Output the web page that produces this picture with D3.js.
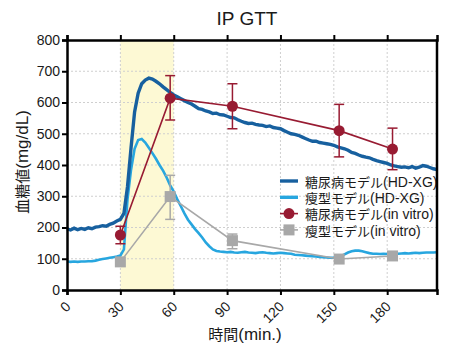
<!DOCTYPE html>
<html>
<head>
<meta charset="utf-8">
<script src="https://cdn.jsdelivr.net/npm/d3@7"></script>
<style>
	body { margin: 0; background: #fff; }
	text { font-family: "Liberation Sans", Arial, "Noto Sans CJK JP", sans-serif; fill: #1a1a1a; }
</style>
</head>
<body>
<svg id="chart" width="475" height="361"></svg>
<script>
// time axis for the continuous HD-XG traces (every 2 min)
var hdTime = d3.range(0, 210, 2);

// diabetic model, HD-XG sensor (mg/dL)
var diabeticHD = [
	196, 192, 198, 193, 197, 194, 199, 196, 201, 203,
	206, 204, 210, 214, 221, 226, 245, 330, 455, 570,
	630, 660, 672, 678, 675, 668, 660, 650, 641, 632,
	624, 618, 612, 606, 600, 595, 588, 580, 578, 573,
	570, 565, 566, 561, 560, 556, 552, 551, 545, 540,
	536, 533, 534, 530, 528, 527, 523, 525, 520, 518,
	516, 510, 505, 500, 498, 495, 490, 485, 480, 476,
	476, 472, 470, 468, 466, 463, 458, 455, 452, 447,
	440, 437, 432, 428, 425, 423, 418, 414, 411, 408,
	405, 400, 397, 395, 393, 394, 391, 395, 390, 393,
	398, 396, 392, 388, 385
];

// lean model, HD-XG sensor (mg/dL)
var leanHD = [
	91, 90, 91, 90, 91, 91, 92, 92, 94, 97,
	99, 101, 103, 105, 107, 110, 130, 290, 385, 452,
	480, 483, 472, 455, 438, 420, 400, 382, 360, 335,
	315, 290, 268, 245, 225, 210, 195, 182, 168, 152,
	140, 130, 125, 123, 122, 121, 122, 120, 119, 121,
	122, 120, 119, 118, 120, 121, 119, 118, 117, 118,
	119, 118, 117, 116, 113, 112, 111, 110, 109, 108,
	107, 106, 105, 104, 103, 103, 104, 108, 114, 120,
	124, 126, 126, 124, 121, 118, 116, 116, 115, 116,
	115, 114, 115, 116, 117, 118, 117, 118, 119, 118,
	119, 120, 120, 120, 121
];

// in vitro samples
var vitroTime = [30, 58, 93, 153, 183];
var diabeticVitro = [176, 614, 588, 510, 451];
var diabeticErrLo = [148, 544, 516, 426, 385];
var diabeticErrHi = [204, 686, 660, 594, 518];
var leanVitro = [90, 299, 158, 99, 109];
var leanErrLo = [90, 226, 132, 99, 109];
var leanErrHi = [90, 367, 179, 99, 109];

var xTicks = [0, 30, 60, 90, 120, 150, 180];
var yTicks = [0, 100, 200, 300, 400, 500, 600, 700, 800];
var band = [30, 60];

// [japanese part, latin part]
var legendLabels = [
	['糖尿病モデル', '(HD-XG)'],
	['瘦型モデル', '(HD-XG)'],
	['糖尿病モデル', '(in vitro)'],
	['瘦型モデル', '(in vitro)']
];

var colors = {
	dark: '#17609f',
	light: '#27a6df',
	red: '#981b32',
	gray: '#a8a8a8'
};

var svg = d3.select('#chart');
var margin = { top: 40, right: 38, bottom: 71, left: 67 };
var width = 475 - margin.left - margin.right;
var height = 361 - margin.top - margin.bottom;

var x = d3.scaleLinear().domain([0, 208]).range([0, width]);
var y = d3.scaleLinear().domain([0, 800]).range([height, 0]);

var g = svg.append('g')
	.attr('transform', `translate(${margin.left},${margin.top})`);

// yellow shaded injection window
g.append('rect')
	.attr('x', x(band[0]))
	.attr('y', 0)
	.attr('width', x(band[1]) - x(band[0]))
	.attr('height', height)
	.attr('fill', '#fdf9d4');

// dotted grid
g.append('g').selectAll('line')
	.data(yTicks.filter(function(d){ return d > 0 && d < 800 }))
	.join('line')
	.attr('x1', 0).attr('x2', width)
	.attr('y1', function(d){ return y(d) })
	.attr('y2', function(d){ return y(d) })
	.attr('stroke', '#cfcfcf')
	.attr('stroke-width', 1)
	.attr('stroke-dasharray', '2,2');

g.append('g').selectAll('line')
	.data(xTicks.filter(function(d){ return d > 0 }))
	.join('line')
	.attr('y1', 0).attr('y2', height)
	.attr('x1', function(d){ return x(d) })
	.attr('x2', function(d){ return x(d) })
	.attr('stroke', '#cfcfcf')
	.attr('stroke-width', 1)
	.attr('stroke-dasharray', '2,2');

// continuous traces
var line = d3.line()
	.x(function(d){ return x(d[0]) })
	.y(function(d){ return y(d[1]) });

g.append('path')
	.datum(d3.zip(hdTime, leanHD))
	.attr('d', line)
	.attr('fill', 'none')
	.attr('stroke', colors.light)
	.attr('stroke-width', 2.6);

g.append('path')
	.datum(d3.zip(hdTime, diabeticHD))
	.attr('d', line)
	.attr('fill', 'none')
	.attr('stroke', colors.dark)
	.attr('stroke-width', 3.4);

// in vitro series with error bars
function drawVitro(vals, lo, hi, color, shape){
	var pts = d3.zip(vitroTime, vals);
	g.append('path')
		.datum(pts)
		.attr('d', line)
		.attr('fill', 'none')
		.attr('stroke', color)
		.attr('stroke-width', 1.6);

	var err = g.append('g')
		.attr('stroke', color)
		.attr('stroke-width', 1.5);
	vitroTime.forEach(function(t, i){
		if (hi[i] - lo[i] < 1) return;
		err.append('line')
			.attr('x1', x(t)).attr('x2', x(t))
			.attr('y1', y(lo[i])).attr('y2', y(hi[i]));
		[lo[i], hi[i]].forEach(function(v){
			err.append('line')
				.attr('x1', x(t) - 5).attr('x2', x(t) + 5)
				.attr('y1', y(v)).attr('y2', y(v));
		});
	});

	if (shape === 'circle') {
		g.append('g').selectAll('circle')
			.data(pts)
			.join('circle')
			.attr('cx', function(d){ return x(d[0]) })
			.attr('cy', function(d){ return y(d[1]) })
			.attr('r', 5.5)
			.attr('fill', color);
	} else {
		g.append('g').selectAll('rect')
			.data(pts)
			.join('rect')
			.attr('x', function(d){ return x(d[0]) - 5.5 })
			.attr('y', function(d){ return y(d[1]) - 5.5 })
			.attr('width', 11)
			.attr('height', 11)
			.attr('fill', color);
	}
}

drawVitro(leanVitro, leanErrLo, leanErrHi, colors.gray, 'square');
drawVitro(diabeticVitro, diabeticErrLo, diabeticErrHi, colors.red, 'circle');

// text with a japanese part and a latin part at different sizes
function mixedText(sel, parts, jpSize, enSize){
	sel.append('tspan').attr('font-size', jpSize).text(parts[0]);
	sel.append('tspan').attr('font-size', enSize).text(parts[1]);
	return sel;
}

// legend
var legend = g.append('g').attr('transform', 'translate(213,141)');
legendLabels.forEach(function(label, i){
	var row = legend.append('g').attr('transform', `translate(0,${i * 16.3})`);
	var c = [colors.dark, colors.light, colors.red, colors.gray][i];
	row.append('line')
		.attr('x1', 0).attr('x2', 18)
		.attr('stroke', c)
		.attr('stroke-width', i < 2 ? 3.4 : 1.6);
	if (i === 2) {
		row.append('circle').attr('cx', 9).attr('r', 5.5).attr('fill', c);
	} else if (i === 3) {
		row.append('rect').attr('x', 3.5).attr('y', -5.5).attr('width', 11).attr('height', 11).attr('fill', c);
	}
	var t = row.append('text')
		.attr('x', 25)
		.attr('dy', '0.36em');
	mixedText(t, label, 13, 14);
});

// axes frame
var xAxis = g.append('g')
	.attr('transform', `translate(0,${height})`)
	.call(d3.axisBottom(x).tickValues(xTicks).tickSize(5).tickFormat(''));
var xTop = g.append('g')
	.call(d3.axisTop(x).tickValues(xTicks).tickSize(5).tickFormat(''));
var yAxis = g.append('g')
	.call(d3.axisLeft(y).tickValues(yTicks).tickSize(5).tickPadding(2));
g.append('line')
	.attr('x1', width).attr('x2', width)
	.attr('y1', -1).attr('y2', height + 1)
	.attr('stroke', '#000').attr('stroke-width', 2.5);

[xAxis, xTop, yAxis].forEach(function(a){
	a.select('.domain').attr('stroke', '#000').attr('stroke-width', 2.5);
	a.selectAll('.tick line').attr('stroke', '#000').attr('stroke-width', 2);
});
yAxis.selectAll('.tick text')
	.attr('font-size', 14)
	.attr('fill', '#1a1a1a');

// rotated time labels
g.append('g').selectAll('text')
	.data(xTicks)
	.join('text')
	.attr('transform', function(d){ return `translate(${x(d) + 1},${height + 14}) rotate(-45)` })
	.attr('text-anchor', 'end')
	.attr('dy', '0.35em')
	.attr('font-size', 14)
	.text(function(d){ return d });

// titles
svg.append('text')
	.attr('x', 247)
	.attr('y', 25)
	.attr('text-anchor', 'middle')
	.attr('font-size', 19)
	.text('IP GTT');

mixedText(svg.append('text')
	.attr('x', 245)
	.attr('y', 340)
	.attr('text-anchor', 'middle'), ['時間', '(min.)'], 15, 17);

mixedText(svg.append('text')
	.attr('transform', 'translate(28,162) rotate(-90)')
	.attr('text-anchor', 'middle'), ['血糖値', '(mg/dL)'], 15, 17);
</script>
</body>
</html>
